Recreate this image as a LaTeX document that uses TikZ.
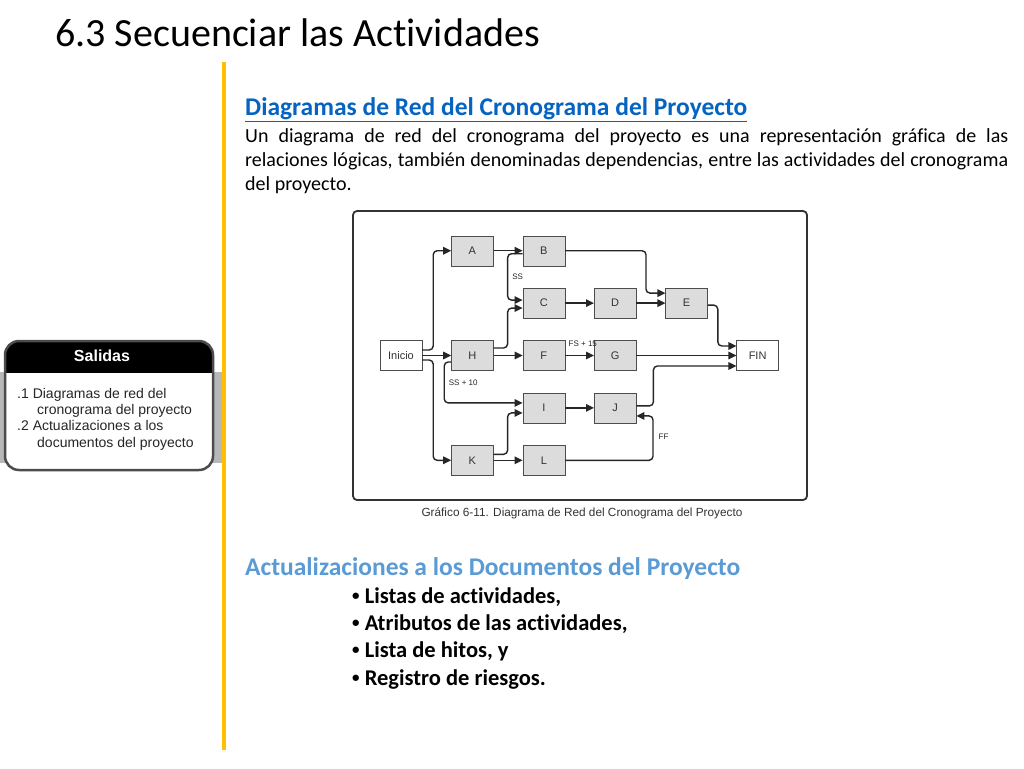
\documentclass[tikz,border=0pt]{standalone}
\usepackage{fontspec}
\setmainfont{Carlito}[Ligatures=NoCommon]
\newfontfamily\arialfont{Liberation Sans}
\usepackage{xcolor}
\definecolor{linkblue}{RGB}{5,99,193}
\definecolor{lightblue}{RGB}{91,155,213}
\definecolor{pmiyellow}{RGB}{255,192,0}
\definecolor{actgray}{RGB}{220,220,220}
\usetikzlibrary{positioning,calc,arrows.meta}
\newcommand{\vineta}{\raisebox{2.5pt}{\fontsize{15}{15}\selectfont •}}

\begin{document}
\begin{tikzpicture}[x=1pt, y=-1pt, >={Triangle[length=8pt,width=7.5pt]}, node distance=22pt and 29pt, act/.style = {draw=black!70, fill=actgray, minimum width=42pt, minimum height=30pt, inner sep=0pt, font=\arialfont\fontsize{11}{12}\selectfont, text=black!80}, term/.style = {act, fill=white}, flow/.style = {->, line width=1.4pt, draw=black!85, rounded corners=4pt}, lag/.style = {font=\arialfont\fontsize{8}{9}\selectfont, inner sep=0pt, text=black!85}, txt/.style = {anchor=base west, inner sep=0pt}]

\useasboundingbox (0,0) rectangle (1024,768);
\fill[white] (0,0) rectangle (1024,768);

% title and yellow rule
\node[txt, font=\fontsize{40}{48}\selectfont] (titulo) at (55,46) {6.3 Secuenciar las Actividades};
\draw[pmiyellow, line width=4pt] (224,62) -- (224,750);

% salidas box
\fill[black!28] (0,372) rectangle (222,463);
\fill[white, rounded corners=14pt] (5,341) rectangle (213,470);
\begin{scope}
\clip[rounded corners=14pt] (5,341) rectangle (213,470);
\fill[black] (5,341) rectangle (213,373);
\end{scope}
\draw[black!70, line width=2.5pt, rounded corners=14pt] (5,341) rectangle (213,470);
\node[text=white, font=\arialfont\bfseries\fontsize{16}{18}\selectfont] (salidas) at (102,356) {Salidas};
\node[txt, font=\arialfont\fontsize{14}{16}\selectfont, text=black!85] (sal1) at (17,398) {.1 Diagramas de red del};
\node[txt, font=\arialfont\fontsize{14}{16}\selectfont, text=black!85] (sal2) at (37,414) {cronograma del proyecto};
\node[txt, font=\arialfont\fontsize{14}{16}\selectfont, text=black!85] (sal3) at (17,430) {.2 Actualizaciones a los};
\node[txt, font=\arialfont\fontsize{14}{16}\selectfont, text=black!85] (sal4) at (37,447) {documentos del proyecto};

% first section
\node[txt, font=\bfseries\fontsize{25.5}{30}\selectfont, text=linkblue] (redtit) at (245,115) {\underline{Diagramas de Red del Cronograma del Proyecto}};
\node[txt, font=\fontsize{20}{24}\selectfont] (texto1) at (245,142) {\makebox[763pt][s]{Un diagrama de red del cronograma del proyecto es una representación gráfica de las}};
\node[txt, font=\fontsize{20}{24}\selectfont] (texto2) at (245,166) {\makebox[763pt][s]{relaciones lógicas, también denominadas dependencias, entre las actividades del cronograma}};
\node[txt, font=\fontsize{20}{24}\selectfont] (texto3) at (245,190) {del proyecto.};

% network diagram
\draw[line width=1.8pt, draw=black!80, rounded corners=4pt] (353,211) rectangle (807,500);

\node[term] (inicio) at (401,355.5) {Inicio};
\node[act] (H) [right=of inicio] {H};
\node[act] (F) [right=of H] {F};
\node[act] (G) [right=of F] {G};
\node[act] (C) [above=of F] {C};
\node[act] (B) [above=of C] {B};
\node[act] (A) [left=of B] {A};
\node[act] (D) [right=of C] {D};
\node[act] (E) [right=of D] {E};
\node[term] (fin) [right=100pt of G] {FIN};
\node[act] (I) [below=of F] {I};
\node[act] (J) [right=of I] {J};
\node[act] (L) [below=of I] {L};
\node[act] (K) [left=of L] {K};

\draw[flow] ([yshift=5.5pt]inicio.east) -- ++(11,0) |- (A);
\draw[flow] (inicio) -- (H);
\draw[flow] ([yshift=-4.5pt]inicio.east) -- ++(11,0) |- (K);
\draw[flow] (A) -- (B);
\draw[flow] (B.east) -- ++(81,0) |- ([yshift=10pt]E.west);
\draw[flow] ([yshift=-3pt]B.west) -- ++(-15,0) |- ([yshift=3pt]C.west) node[lag, pos=0.25, right=4pt] (ss) {SS};
\draw[flow] ([yshift=7.5pt]H.east) -- ++(14,0) |- ([yshift=-5pt]C.west);
\draw[flow] (C) -- (D);
\draw[flow] (D) -- (E);
\draw[flow] ([yshift=-2pt]E.east) -- ++(10,0) |- ([yshift=9.5pt]fin.west);
\draw[flow] (H) -- (F);
\draw[flow] (F) -- (G) node[lag, pos=0, anchor=south west, xshift=3pt, yshift=8pt] (fs) {FS + 15};
\draw[flow] (G) -- (fin);
\draw[flow] ([yshift=2pt]J.east) -- ++(17,0) |- ([yshift=-10.5pt]fin.west);
\draw[flow] ([yshift=-6.5pt]H.west) -- ++(-7,0) |- ([yshift=5pt]I.west) node[lag, pos=0.25, right=4pt] (ss10) {SS + 10};
\draw[flow] (I) -- (J);
\draw[flow] ([yshift=6pt]K.east) -- ++(14,0) |- ([yshift=-5pt]I.west);
\draw[flow] (K) -- (L);
\draw[flow] (L.east) -- ++(88,0) |- ([yshift=-8pt]J.east) node[lag, pos=0.27, right=5pt] (ff) {FF};

\node[font=\arialfont\fontsize{11.8}{13}\selectfont, text=black!80] (grafico) at (582,513) {Gráfico 6-11. Diagrama de Red del Cronograma del Proyecto};

% second section
\node[txt, font=\bfseries\fontsize{25.5}{30}\selectfont, text=lightblue] (acttit) at (245,575) {Actualizaciones a los Documentos del Proyecto};
\node[txt, font=\bfseries\fontsize{22.5}{26}\selectfont] (item1) at (352,603) {\vineta\ Listas de actividades,};
\node[txt, font=\bfseries\fontsize{22.5}{26}\selectfont] (item2) at (352,630) {\vineta\ Atributos de las actividades,};
\node[txt, font=\bfseries\fontsize{22.5}{26}\selectfont] (item3) at (352,657) {\vineta\ Lista de hitos, y};
\node[txt, font=\bfseries\fontsize{22.5}{26}\selectfont] (item4) at (352,685) {\vineta\ Registro de riesgos.};
\end{tikzpicture}
\end{document}
